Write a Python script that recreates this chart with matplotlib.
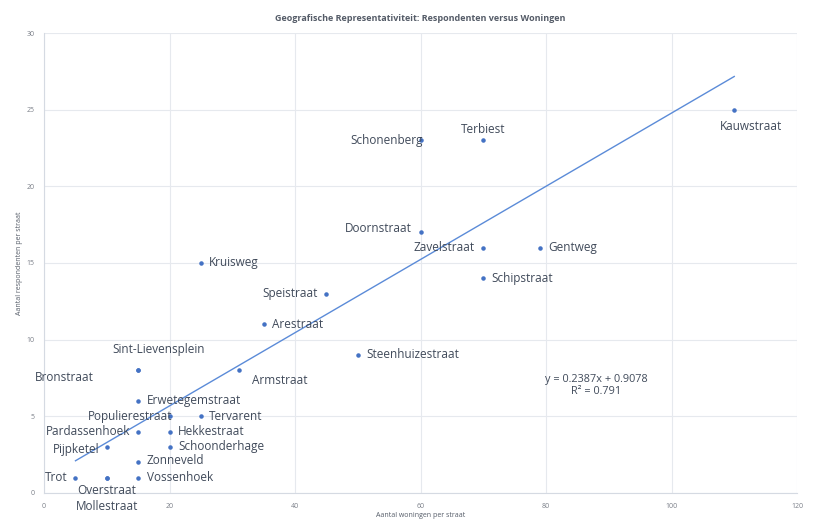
import numpy as np
import matplotlib.pyplot as plt

plt.rcParams['font.family'] = ['Open Sans', 'DejaVu Sans']

# data: (woningen, respondenten) per straat
straten = ["Kauwstraat", "Terbiest", "Schonenberg", "Doornstraat", "Zavelstraat",
           "Gentweg", "Schipstraat", "Kruisweg", "Speistraat", "Arestraat",
           "Steenhuizestraat", "Armstraat", "Sint-Lievensplein", "Bronstraat",
           "Erwetegemstraat", "Populierestraat", "Tervarent", "Pardassenhoek",
           "Hekkestraat", "Pijpketel", "Schoonderhage", "Zonneveld", "Trot",
           "Overstraat", "Mollestraat", "Vossenhoek"]
woningen = [110, 70, 60, 60, 70, 79, 70, 25, 45, 35, 50, 31, 15, 15,
            15, 20, 25, 15, 20, 10, 20, 15, 5, 10, 10, 15]
respondenten = [25, 23, 23, 17, 16, 16, 14, 15, 13, 11, 9, 8, 8, 8,
                6, 5, 5, 4, 4, 3, 3, 2, 1, 1, 1, 1]

slope = 0.2387
intercept = 0.9078
r2 = 0.791

# label placement per straat (offset in points, alignment)
R = (6, 0, 'left', 'center')
L = (-6, 0, 'right', 'center')
placement = {
    "Kauwstraat": (-10, -12, 'left', 'center'),
    "Terbiest": (0, 8, 'center', 'center'),
    "Schonenberg": (2, 0, 'right', 'center'),
    "Doornstraat": (-6, 3, 'right', 'center'),
    "Zavelstraat": L, "Gentweg": R, "Schipstraat": R, "Kruisweg": R,
    "Speistraat": L, "Arestraat": R, "Steenhuizestraat": R,
    "Armstraat": (10, -7, 'left', 'center'),
    "Sint-Lievensplein": (15, 15, 'center', 'center'),
    "Bronstraat": (-32, -5, 'right', 'center'),
    "Erwetegemstraat": R, "Populierestraat": (2, 0, 'right', 'center'),
    "Tervarent": R, "Pardassenhoek": L, "Hekkestraat": R,
    "Pijpketel": (-5, -2, 'right', 'center'),
    "Schoonderhage": R, "Zonneveld": (6, 1, 'left', 'center'),
    "Trot": L, "Overstraat": (0, -9, 'center', 'center'),
    "Mollestraat": (0, -21, 'center', 'center'), "Vossenhoek": R,
}

fig = plt.figure(figsize=(8.17, 5.2), dpi=100)
ax = fig.add_axes([0.054, 0.052, 0.9215, 0.8845])

ax.scatter(woningen, respondenten, s=5, c='#4472C4', zorder=3)

xs = np.array([min(woningen), max(woningen)])
ax.plot(xs, slope * xs + intercept, color='#5B8BD8', lw=1.0, zorder=2)

for naam, x, y in zip(straten, woningen, respondenten):
    dx, dy, ha, va = placement[naam]
    ax.annotate(naam, (x, y), xytext=(dx, dy), textcoords='offset points',
                ha=ha, va=va, fontsize=8.5, color='#404a5a')

ax.text(88, 7.0, f"y = {slope}x + {intercept}\nR² = {r2}", ha='center', va='center',
        fontsize=7.8, color='#404a5a', linespacing=1.15)

ax.set_xlim(0, 120)
ax.set_ylim(0, 30)
ax.set_xticks(range(0, 121, 20))
ax.set_yticks(range(0, 31, 5))
ax.grid(True, color='#e6e9ee', lw=0.8)
ax.set_axisbelow(True)
for s in ['top', 'right']:
    ax.spines[s].set_visible(False)
for s in ['left', 'bottom']:
    ax.spines[s].set_color('#d5dae2')
ax.tick_params(length=0, labelsize=5, labelcolor='#7a7f88', pad=7)

ax.set_title("Geografische Representativiteit: Respondenten versus Woningen",
             fontsize=6.5, fontweight='bold', color='#555c68', pad=9)
ax.set_xlabel("Aantal woningen per straat", fontsize=5, color='#555c68', labelpad=2)
ax.set_ylabel("Aantal respondenten per straat", fontsize=5, color='#555c68', labelpad=2)

fig.savefig("out.png", dpi=100)
